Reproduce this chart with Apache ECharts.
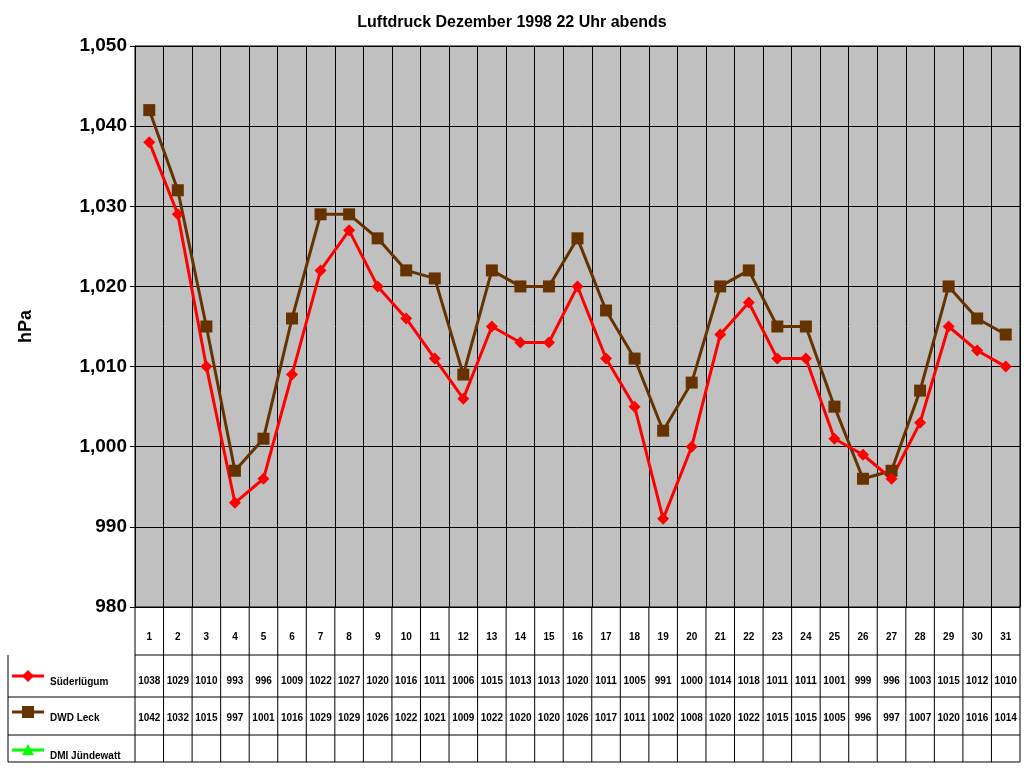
<!DOCTYPE html>
<html><head><meta charset="utf-8">
<script src="https://cdn.jsdelivr.net/npm/echarts@6/dist/echarts.min.js"></script>
<style>html,body{margin:0;padding:0;background:#fff}#c{width:1024px;height:768px}</style>
</head><body><div id="c"></div>
<script>
var days = [];
for (var d = 1; d <= 31; d++) days.push(String(d));
var suederluegum = [1038,1029,1010,993,996,1009,1022,1027,1020,1016,1011,1006,1015,1013,1013,1020,1011,1005,991,1000,1014,1018,1011,1011,1001,999,996,1003,1015,1012,1010];
var dwdLeck = [1042,1032,1015,997,1001,1016,1029,1029,1026,1022,1021,1009,1022,1020,1020,1026,1017,1011,1002,1008,1020,1022,1015,1015,1005,996,997,1007,1020,1016,1014];
var dmiJuendewatt = [];

var L = 135, R = 1020, T = 46, B = 607;
var cw = (R - L) / 31;
var rows = [607, 655, 697, 735, 762];

var g = [];
// table lines
for (var i = 1; i < rows.length; i++) {
  g.push({type:'line', shape:{x1:(i==1?L:8), y1:rows[i], x2:R, y2:rows[i]}, style:{stroke:'#000', lineWidth:1}});
}
g.push({type:'line', shape:{x1:8, y1:rows[1], x2:8, y2:rows[4]}, style:{stroke:'#000'}});
for (var j = 0; j <= 31; j++) {
  var x = L + j * cw;
  g.push({type:'line', shape:{x1:x, y1:B, x2:x, y2:rows[4]}, style:{stroke:'#000'}});
}
function rowText(arr, y) {
  for (var k = 0; k < arr.length; k++) {
    g.push({type:'text', x:L + (k + 0.5) * cw, y:y, style:{text:String(arr[k]), font:'bold 10px Arial', fill:'#000', align:'center', verticalAlign:'middle'}});
  }
}
rowText(suederluegum, 681);
rowText(dwdLeck, 718);
// legend keys
var keys = [
  {name:'Süderlügum', y:676, color:'#ff0000', sym:'diamond'},
  {name:'DWD Leck', y:712, color:'#663300', sym:'rect'},
  {name:'DMI Jündewatt', y:750, color:'#00ff00', sym:'triangle'}
];
keys.forEach(function (k) {
  g.push({type:'line', shape:{x1:12, y1:k.y, x2:44, y2:k.y}, style:{stroke:k.color, lineWidth:3}});
  var s = k.sym == 'diamond' ? {type:'polygon', shape:{points:[[28,k.y-6],[34,k.y],[28,k.y+6],[22,k.y]]}}
        : k.sym == 'rect' ? {type:'rect', shape:{x:22, y:k.y-6, width:12, height:12}}
        : {type:'polygon', shape:{points:[[28,k.y-6],[34,k.y+5],[22,k.y+5]]}};
  s.style = {fill:k.color};
  g.push(s);
  g.push({type:'text', x:50, y:k.y + 6, style:{text:k.name, font:'bold 10px Arial', fill:'#000', verticalAlign:'middle'}});
});

var chart = echarts.init(document.getElementById('c'));
chart.setOption({
  animation: false,
  title: {text:'Luftdruck Dezember 1998 22 Uhr abends', left:'center', top:10,
    textStyle:{fontFamily:'Arial', fontWeight:'bold', fontSize:16, color:'#000'}},
  grid: {left:L, right:1024 - R, top:T, bottom:768 - B, show:true, backgroundColor:'#c0c0c0', borderColor:'#000', borderWidth:1},
  xAxis: {type:'category', data:days, boundaryGap:true,
    axisLine:{lineStyle:{color:'#000'}}, axisTick:{show:false},
    axisLabel:{margin:25, color:'#000', fontFamily:'Arial', fontWeight:'bold', fontSize:10},
    splitLine:{show:true, lineStyle:{color:'#000', width:1}}},
  yAxis: {type:'value', min:980, max:1050, interval:10, name:'hPa', nameLocation:'middle', nameGap:100,
    nameTextStyle:{fontFamily:'Arial', fontWeight:'bold', fontSize:18, color:'#000'},
    axisLine:{show:true, lineStyle:{color:'#000'}}, axisTick:{show:true, lineStyle:{color:'#000'}},
    axisLabel:{color:'#000', fontFamily:'Arial', fontWeight:'bold', fontSize:19},
    splitLine:{lineStyle:{color:'#000', width:1}}},
  series: [
    {name:'DWD Leck', type:'line', data:dwdLeck, symbol:'rect', symbolSize:12,
      lineStyle:{color:'#663300', width:3}, itemStyle:{color:'#663300'}},
    {name:'Süderlügum', type:'line', data:suederluegum, symbol:'diamond', symbolSize:12,
      lineStyle:{color:'#ff0000', width:3}, itemStyle:{color:'#ff0000'}},
    {name:'DMI Jündewatt', type:'line', data:dmiJuendewatt, symbol:'triangle',
      lineStyle:{color:'#00ff00', width:3}, itemStyle:{color:'#00ff00'}}
  ],
  graphic: g
});
</script></body></html>
